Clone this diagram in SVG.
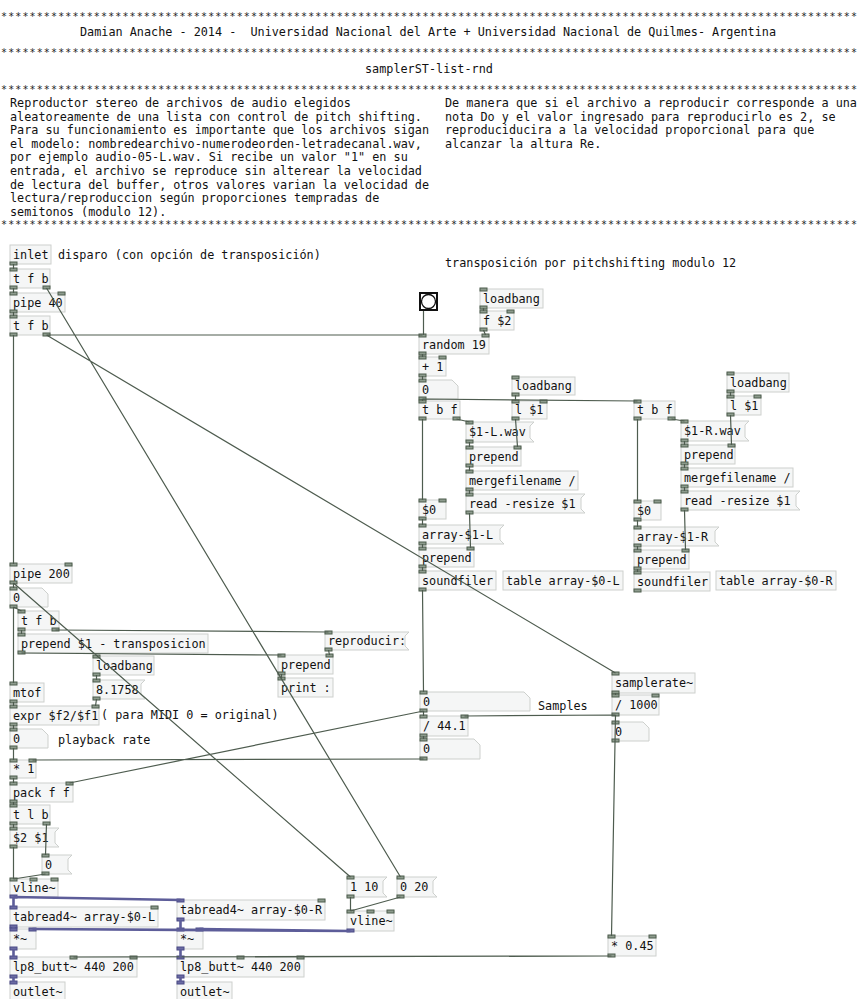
<svg xmlns="http://www.w3.org/2000/svg" width="858" height="999" viewBox="0 0 858 999">
<style>
.t{font-family:"DejaVu Sans Mono","Liberation Mono",monospace;font-size:11.8px;fill:#111}
.st{font-family:"DejaVu Sans Mono","Liberation Mono",monospace;font-size:10px;fill:#222}
.b{fill:#f5f6f6;stroke:#cdd0cd;stroke-width:1}
.io{fill:#8d9b8d;stroke:#4d5c4d;stroke-width:1}
.ios{fill:#6b6ba3;stroke:#4a4a86;stroke-width:1}
.c{stroke:#4e5c4f;stroke-width:1.2;fill:none}
.s{stroke:#5d5d99;stroke-width:2.6;fill:none}
</style>
<defs>
<rect id="io" class="io" width="7" height="3"/>
<rect id="ios" class="ios" width="7" height="3"/>
</defs>
<rect width="858" height="999" fill="#fff"/>
<g id="header">
<text class="st" x="1" y="19.5" textLength="856" lengthAdjust="spacing">************************************************************************************************************************</text>
<text class="t" x="80" y="36" xml:space="preserve">Damian Anache - 2014 -  Universidad Nacional del Arte + Universidad Nacional de Quilmes- Argentina</text>
<text class="st" x="1" y="55.5" textLength="856" lengthAdjust="spacing">************************************************************************************************************************</text>
<text class="t" x="365" y="73">samplerST-list-rnd</text>
<text class="st" x="1" y="93" textLength="856" lengthAdjust="spacing">************************************************************************************************************************</text>
<text class="t" x="10" y="107">Reproductor stereo de archivos de audio elegidos</text>
<text class="t" x="10" y="120.6">aleatoreamente de una lista con control de pitch shifting.</text>
<text class="t" x="10" y="134.2">Para su funcionamiento es importante que los archivos sigan</text>
<text class="t" x="10" y="147.8">el modelo: nombredearchivo-numerodeorden-letradecanal.wav,</text>
<text class="t" x="10" y="161.4">por ejemplo audio-05-L.wav. Si recibe un valor "1" en su</text>
<text class="t" x="10" y="175">entrada, el archivo se reproduce sin alterear la velocidad</text>
<text class="t" x="10" y="188.6">de lectura del buffer, otros valores varian la velocidad de</text>
<text class="t" x="10" y="202.2">lectura/reproduccion según proporciones tempradas de</text>
<text class="t" x="10" y="215.8">semitonos (modulo 12).</text>
<text class="t" x="445" y="107">De manera que si el archivo a reproducir corresponde a una</text>
<text class="t" x="445" y="120.6">nota Do y el valor ingresado para reproducirlo es 2, se</text>
<text class="t" x="445" y="134.2">reproduciducira a la velocidad proporcional para que</text>
<text class="t" x="445" y="147.8">alcanzar la altura Re.</text>
<text class="st" x="1" y="228" textLength="856" lengthAdjust="spacing">************************************************************************************************************************</text>
</g>
<g id="comments">
<text class="t" x="58" y="259">disparo (con opción de transposición)</text>
<text class="t" x="445" y="267">transposición por pitchshifting modulo 12</text>
<text class="t" x="101" y="719">( para MIDI 0 = original)</text>
<text class="t" x="58" y="744">playback rate</text>
<text class="t" x="538" y="710">Samples</text>
</g>
<g id="n_inlet"><rect class="b" x="10" y="245" width="41" height="19"/><text class="t" x="13" y="259">inlet</text><use href="#io" x="10" y="262"/></g>
<g id="n_tfb1"><rect class="b" x="10" y="269" width="40" height="19"/><text class="t" x="13" y="283">t f b</text><use href="#io" x="10" y="268"/><use href="#io" x="10" y="286"/><use href="#io" x="43" y="286"/></g>
<g id="n_pipe40"><rect class="b" x="10" y="293" width="55" height="19"/><text class="t" x="13" y="307">pipe 40</text><use href="#io" x="10" y="292"/><use href="#io" x="58" y="292"/><use href="#io" x="10" y="310"/></g>
<g id="n_tfb2"><rect class="b" x="10" y="316" width="40" height="19"/><text class="t" x="13" y="330">t f b</text><use href="#io" x="10" y="315"/><use href="#io" x="10" y="333"/><use href="#io" x="43" y="333"/></g>
<g id="n_bng"><rect x="420" y="293" width="17" height="17" fill="#fff" stroke="#111" stroke-width="2"/><circle cx="428.5" cy="301.5" r="7" fill="#fff" stroke="#111" stroke-width="1.3"/></g>
<g id="n_lb1"><rect class="b" x="480" y="289" width="63" height="19"/><text class="t" x="483" y="303">loadbang</text><use href="#io" x="480" y="288"/><use href="#io" x="480" y="306"/></g>
<g id="n_f2"><rect class="b" x="480" y="311" width="34" height="19"/><text class="t" x="483" y="325">f $2</text><use href="#io" x="480" y="310"/><use href="#io" x="507" y="310"/><use href="#io" x="480" y="328"/></g>
<g id="n_random"><rect class="b" x="419" y="335" width="70" height="19"/><text class="t" x="422" y="349">random 19</text><use href="#io" x="419" y="334"/><use href="#io" x="482" y="334"/><use href="#io" x="419" y="352"/></g>
<g id="n_plus1"><rect class="b" x="419" y="357" width="27" height="19"/><text class="t" x="422" y="371">+ 1</text><use href="#io" x="419" y="356"/><use href="#io" x="439" y="356"/><use href="#io" x="419" y="374"/></g>
<g id="n_num1"><path class="b" d="M419 380H452L458 386V399H419Z"/><text class="t" x="422" y="394">0</text><use href="#io" x="419" y="379"/><use href="#io" x="419" y="397"/></g>
<g id="n_lb2"><rect class="b" x="512" y="377" width="63" height="18"/><text class="t" x="515" y="390">loadbang</text><use href="#io" x="512" y="376"/><use href="#io" x="512" y="393"/></g>
<g id="n_tbfL"><rect class="b" x="419" y="401" width="41" height="18"/><text class="t" x="422" y="414">t b f</text><use href="#io" x="419" y="400"/><use href="#io" x="419" y="417"/><use href="#io" x="453" y="417"/></g>
<g id="n_l1L"><rect class="b" x="512" y="401" width="35" height="18"/><text class="t" x="515" y="414">l $1</text><use href="#io" x="512" y="400"/><use href="#io" x="540" y="400"/><use href="#io" x="512" y="417"/></g>
<g id="n_wavL"><path class="b" d="M466 422H534L530 426V438L534 442H466Z"/><text class="t" x="469" y="436">$1-L.wav</text><use href="#io" x="466" y="421"/><use href="#io" x="466" y="440"/></g>
<g id="n_prepL1"><rect class="b" x="466" y="447" width="55" height="19"/><text class="t" x="469" y="461">prepend</text><use href="#io" x="466" y="446"/><use href="#io" x="514" y="446"/><use href="#io" x="466" y="464"/></g>
<g id="n_mergeL"><rect class="b" x="466" y="471" width="112" height="19"/><text class="t" x="469" y="485">mergefilename /</text><use href="#io" x="466" y="470"/><use href="#io" x="466" y="488"/></g>
<g id="n_readL"><path class="b" d="M466 494H585L581 498V509L585 513H466Z"/><text class="t" x="469" y="508">read -resize $1</text><use href="#io" x="466" y="493"/><use href="#io" x="466" y="511"/></g>
<g id="n_0L"><rect class="b" x="419" y="500" width="27" height="19"/><text class="t" x="422" y="514">$0</text><use href="#io" x="419" y="499"/><use href="#io" x="439" y="499"/><use href="#io" x="419" y="517"/></g>
<g id="n_arrL"><path class="b" d="M419 525H504L500 529V540L504 544H419Z"/><text class="t" x="422" y="539">array-$1-L</text><use href="#io" x="419" y="524"/><use href="#io" x="419" y="542"/></g>
<g id="n_prepL2"><rect class="b" x="419" y="548" width="55" height="19"/><text class="t" x="422" y="562">prepend</text><use href="#io" x="419" y="547"/><use href="#io" x="467" y="547"/><use href="#io" x="419" y="565"/></g>
<g id="n_sfL"><rect class="b" x="419" y="571" width="77" height="19"/><text class="t" x="422" y="585">soundfiler</text><use href="#io" x="419" y="570"/><use href="#io" x="419" y="588"/></g>
<g id="n_tabL"><rect class="b" x="503" y="571" width="120" height="19"/><text class="t" x="506" y="585">table array-$0-L</text></g>
<g id="n_lbR"><rect class="b" x="727" y="373" width="62" height="19"/><text class="t" x="730" y="387">loadbang</text><use href="#io" x="727" y="372"/><use href="#io" x="727" y="390"/></g>
<g id="n_l1R"><rect class="b" x="727" y="396" width="34" height="19"/><text class="t" x="730" y="410">l $1</text><use href="#io" x="727" y="395"/><use href="#io" x="754" y="395"/><use href="#io" x="727" y="413"/></g>
<g id="n_tbfR"><rect class="b" x="634" y="401" width="41" height="18"/><text class="t" x="637" y="414">t b f</text><use href="#io" x="634" y="400"/><use href="#io" x="634" y="417"/><use href="#io" x="668" y="417"/></g>
<g id="n_wavR"><path class="b" d="M681 421H749L745 425V437L749 441H681Z"/><text class="t" x="684" y="435">$1-R.wav</text><use href="#io" x="681" y="420"/><use href="#io" x="681" y="439"/></g>
<g id="n_prepR1"><rect class="b" x="681" y="445" width="54" height="19"/><text class="t" x="684" y="459">prepend</text><use href="#io" x="681" y="444"/><use href="#io" x="728" y="444"/><use href="#io" x="681" y="462"/></g>
<g id="n_mergeR"><rect class="b" x="681" y="468" width="112" height="19"/><text class="t" x="684" y="482">mergefilename /</text><use href="#io" x="681" y="467"/><use href="#io" x="681" y="485"/></g>
<g id="n_readR"><path class="b" d="M681 491H800L796 495V506L800 510H681Z"/><text class="t" x="684" y="505">read -resize $1</text><use href="#io" x="681" y="490"/><use href="#io" x="681" y="508"/></g>
<g id="n_0R"><rect class="b" x="634" y="501" width="27" height="19"/><text class="t" x="637" y="515">$0</text><use href="#io" x="634" y="500"/><use href="#io" x="654" y="500"/><use href="#io" x="634" y="518"/></g>
<g id="n_arrR"><path class="b" d="M634 527H719L715 531V542L719 546H634Z"/><text class="t" x="637" y="541">array-$1-R</text><use href="#io" x="634" y="526"/><use href="#io" x="634" y="544"/></g>
<g id="n_prepR2"><rect class="b" x="634" y="550" width="55" height="19"/><text class="t" x="637" y="564">prepend</text><use href="#io" x="634" y="549"/><use href="#io" x="682" y="549"/><use href="#io" x="634" y="567"/></g>
<g id="n_sfR"><rect class="b" x="634" y="572" width="76" height="19"/><text class="t" x="637" y="586">soundfiler</text><use href="#io" x="634" y="571"/><use href="#io" x="634" y="589"/></g>
<g id="n_tabR"><rect class="b" x="716" y="571" width="120" height="19"/><text class="t" x="719" y="585">table array-$0-R</text></g>
<g id="n_pipe200"><rect class="b" x="10" y="564" width="62" height="19"/><text class="t" x="13" y="578">pipe 200</text><use href="#io" x="10" y="563"/><use href="#io" x="65" y="563"/><use href="#io" x="10" y="581"/></g>
<g id="n_num2"><path class="b" d="M10 588H42L48 594V607H10Z"/><text class="t" x="13" y="602">0</text><use href="#io" x="10" y="587"/><use href="#io" x="10" y="605"/></g>
<g id="n_tfb3"><rect class="b" x="18" y="611" width="41" height="19"/><text class="t" x="21" y="625">t f b</text><use href="#io" x="18" y="610"/><use href="#io" x="18" y="628"/><use href="#io" x="52" y="628"/></g>
<g id="n_prepT"><rect class="b" x="18" y="634" width="190" height="19"/><text class="t" x="21" y="648">prepend $1 - transposicion</text><use href="#io" x="18" y="633"/><use href="#io" x="18" y="651"/></g>
<g id="n_repro"><path class="b" d="M325 632H409L405 636V646L409 650H325Z"/><text class="t" x="328" y="645">reproducir:</text><use href="#io" x="325" y="631"/><use href="#io" x="325" y="648"/></g>
<g id="n_prepP"><rect class="b" x="278" y="655" width="55" height="19"/><text class="t" x="281" y="669">prepend</text><use href="#io" x="278" y="654"/><use href="#io" x="326" y="654"/><use href="#io" x="278" y="672"/></g>
<g id="n_print"><rect class="b" x="278" y="678" width="55" height="19"/><text class="t" x="281" y="692">print :</text><use href="#io" x="278" y="677"/></g>
<g id="n_lb3"><rect class="b" x="93" y="656" width="61" height="19"/><text class="t" x="96" y="670">loadbang</text><use href="#io" x="93" y="655"/><use href="#io" x="93" y="673"/></g>
<g id="n_8175"><path class="b" d="M93 680H145L141 684V695L145 699H93Z"/><text class="t" x="96" y="694">8.1758</text><use href="#io" x="93" y="679"/><use href="#io" x="93" y="697"/></g>
<g id="n_mtof"><rect class="b" x="10" y="683" width="34" height="19"/><text class="t" x="13" y="697">mtof</text><use href="#io" x="10" y="682"/><use href="#io" x="10" y="700"/></g>
<g id="n_expr"><rect class="b" x="10" y="706" width="89" height="19"/><text class="t" x="13" y="720">expr $f2/$f1</text><use href="#io" x="10" y="705"/><use href="#io" x="92" y="705"/><use href="#io" x="10" y="723"/></g>
<g id="n_num3"><path class="b" d="M10 729H42L48 735V748H10Z"/><text class="t" x="13" y="743">0</text><use href="#io" x="10" y="728"/><use href="#io" x="10" y="746"/></g>
<g id="n_mul1"><rect class="b" x="10" y="760" width="26" height="18"/><text class="t" x="13" y="773">* 1</text><use href="#io" x="10" y="759"/><use href="#io" x="29" y="759"/><use href="#io" x="10" y="776"/></g>
<g id="n_pack"><rect class="b" x="10" y="783" width="63" height="19"/><text class="t" x="13" y="797">pack f f</text><use href="#io" x="10" y="782"/><use href="#io" x="66" y="782"/><use href="#io" x="10" y="800"/></g>
<g id="n_tlb"><rect class="b" x="10" y="805" width="40" height="19"/><text class="t" x="13" y="819">t l b</text><use href="#io" x="10" y="804"/><use href="#io" x="10" y="822"/><use href="#io" x="43" y="822"/></g>
<g id="n_21"><path class="b" d="M10 828H59L55 832V843L59 847H10Z"/><text class="t" x="13" y="842">$2 $1</text><use href="#io" x="10" y="827"/><use href="#io" x="10" y="845"/></g>
<g id="n_0msg"><path class="b" d="M42 855H72L68 859V870L72 874H42Z"/><text class="t" x="45" y="869">0</text><use href="#io" x="42" y="854"/><use href="#io" x="42" y="872"/></g>
<g id="n_vlineL"><rect class="b" x="10" y="879" width="48" height="18"/><text class="t" x="13" y="892">vline~</text><use href="#io" x="10" y="878"/><use href="#io" x="30" y="878"/><use href="#io" x="51" y="878"/><use href="#ios" x="10" y="895"/></g>
<g id="n_trL"><rect class="b" x="10" y="907" width="148" height="20"/><text class="t" x="13" y="921">tabread4~ array-$0-L</text><use href="#ios" x="10" y="906"/><use href="#io" x="151" y="906"/><use href="#ios" x="10" y="925"/></g>
<g id="n_trR"><rect class="b" x="177" y="900" width="148" height="20"/><text class="t" x="180" y="914">tabread4~ array-$0-R</text><use href="#ios" x="177" y="899"/><use href="#io" x="318" y="899"/><use href="#ios" x="177" y="918"/></g>
<g id="n_mulL"><rect class="b" x="10" y="929" width="26" height="20"/><text class="t" x="13" y="943">*~</text><use href="#ios" x="10" y="928"/><use href="#ios" x="29" y="928"/><use href="#ios" x="10" y="947"/></g>
<g id="n_mulR"><rect class="b" x="177" y="929" width="26" height="20"/><text class="t" x="180" y="943">*~</text><use href="#ios" x="177" y="928"/><use href="#ios" x="196" y="928"/><use href="#ios" x="177" y="947"/></g>
<g id="n_lpL"><rect class="b" x="10" y="957" width="127" height="20"/><text class="t" x="13" y="971">lp8_butt~ 440 200</text><use href="#ios" x="10" y="956"/><use href="#io" x="70" y="956"/><use href="#io" x="130" y="956"/><use href="#ios" x="10" y="975"/></g>
<g id="n_lpR"><rect class="b" x="177" y="957" width="127" height="20"/><text class="t" x="180" y="971">lp8_butt~ 440 200</text><use href="#ios" x="177" y="956"/><use href="#io" x="237" y="956"/><use href="#io" x="297" y="956"/><use href="#ios" x="177" y="975"/></g>
<g id="n_outL"><rect class="b" x="10" y="982" width="55" height="18"/><text class="t" x="13" y="996">outlet~</text><use href="#ios" x="10" y="981"/></g>
<g id="n_outR"><rect class="b" x="177" y="982" width="55" height="18"/><text class="t" x="180" y="996">outlet~</text><use href="#ios" x="177" y="981"/></g>
<g id="n_m110"><path class="b" d="M347 877H387L383 881V893L387 897H347Z"/><text class="t" x="350" y="891">1 10</text><use href="#io" x="347" y="876"/><use href="#io" x="347" y="895"/></g>
<g id="n_m020"><path class="b" d="M397 877H437L433 881V893L437 897H397Z"/><text class="t" x="400" y="891">0 20</text><use href="#io" x="397" y="876"/><use href="#io" x="397" y="895"/></g>
<g id="n_vlineR"><rect class="b" x="347" y="911" width="47" height="20"/><text class="t" x="350" y="925">vline~</text><use href="#io" x="347" y="910"/><use href="#io" x="367" y="910"/><use href="#io" x="387" y="910"/><use href="#ios" x="347" y="929"/></g>
<g id="n_mul045"><rect class="b" x="608" y="936" width="48" height="20"/><text class="t" x="611" y="950">* 0.45</text><use href="#io" x="608" y="935"/><use href="#io" x="649" y="935"/><use href="#io" x="608" y="954"/></g>
<g id="n_numS"><path class="b" d="M420 692H524L530 698V711H420Z"/><text class="t" x="423" y="706">0</text><use href="#io" x="420" y="691"/><use href="#io" x="420" y="709"/></g>
<g id="n_div441"><rect class="b" x="420" y="716" width="48" height="20"/><text class="t" x="423" y="730">/ 44.1</text><use href="#io" x="420" y="715"/><use href="#io" x="461" y="715"/><use href="#io" x="420" y="734"/></g>
<g id="n_num4"><path class="b" d="M420 739H474L480 745V759H420Z"/><text class="t" x="423" y="753">0</text><use href="#io" x="420" y="738"/><use href="#io" x="420" y="757"/></g>
<g id="n_sr"><rect class="b" x="612" y="673" width="83" height="20"/><text class="t" x="615" y="687">samplerate~</text><use href="#io" x="612" y="672"/><use href="#io" x="612" y="691"/></g>
<g id="n_div1000"><rect class="b" x="612" y="695" width="47" height="20"/><text class="t" x="615" y="709">/ 1000</text><use href="#io" x="612" y="694"/><use href="#io" x="652" y="694"/><use href="#io" x="612" y="713"/></g>
<g id="n_num5"><path class="b" d="M612 722H643L649 728V741H612Z"/><text class="t" x="615" y="736">0</text><use href="#io" x="612" y="721"/><use href="#io" x="612" y="739"/></g>
<g id="connectors">
<path class="c" d="M13.5 264V269M13.5 288V293M46.5 288L400.5 877M13.5 312V316M13.5 335V564M46.5 335H422.5M46.5 335L615.5 673M423.5 311V335M483.5 308V311M483.5 330L485.5 335M422.5 354V357M422.5 376V380M422.5 399V401M422.5 399L637.5 401M515.5 395V401M422.5 419V500M456.5 419L469.5 422M515.5 419L517.5 447M469.5 442V447M469.5 466V471M469.5 490V494M469.5 513L470.5 548M422.5 519V525M422.5 544V548M422.5 567V571M422.5 590L423.5 692"/>
<path class="c" d="M730.5 392V396M637.5 419V501M671.5 419L684.5 421M730.5 415L731.5 445M684.5 441V445M684.5 464V468M684.5 487V491M684.5 510L685.5 550M637.5 520V527M637.5 546V550M637.5 569V572"/>
<path class="c" d="M13.5 583V588M13.5 583L350.5 877M13.5 607L21.5 611M13.5 607V683M21.5 630V634M55.5 630L328.5 632M21.5 653L281.5 655M328.5 650L329.5 655M281.5 674V678M96.5 675V680M96.5 699L95.5 706M13.5 702V706M13.5 725V729M13.5 748V760M423.5 759L32.5 760M423.5 711L69.5 783M423.5 711V716M423.5 736V739M615.5 693V695M615.5 715L464.5 716M615.5 715L611.5 936M13.5 778V783M13.5 802V805M13.5 824V828M46.5 824L45.5 855M13.5 847V879M45.5 874L13.5 879M350.5 897V911M400.5 897L350.5 911M611.5 956L73.5 957M611.5 956L240.5 957"/>
<path class="s" d="M13.5 897V907M13.5 897L180.5 900M13.5 927V929M180.5 920V929M350.5 931L32.5 929M350.5 931L199.5 929M13.5 949V957M180.5 949V957M13.5 977V982M180.5 977V982"/>
</g>
</svg>
